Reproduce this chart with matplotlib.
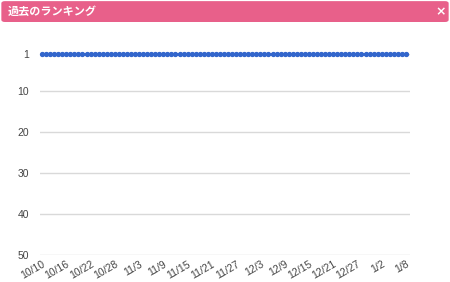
import matplotlib
matplotlib.use("Agg")
import matplotlib.pyplot as plt
from matplotlib.patches import FancyBboxPatch

plt.rcParams['font.family'] = ['Liberation Sans', 'Noto Sans CJK JP', 'DejaVu Sans']

title = "過去のランキング"
# daily rank from 10/10 to 1/8 (91 days), always 1st
ranks = [1, 1, 1, 1, 1, 1, 1, 1, 1, 1, 1, 1, 1, 1, 1, 1, 1, 1, 1, 1,
         1, 1, 1, 1, 1, 1, 1, 1, 1, 1, 1, 1, 1, 1, 1, 1, 1, 1, 1, 1,
         1, 1, 1, 1, 1, 1, 1, 1, 1, 1, 1, 1, 1, 1, 1, 1, 1, 1, 1, 1,
         1, 1, 1, 1, 1, 1, 1, 1, 1, 1, 1, 1, 1, 1, 1, 1, 1, 1, 1, 1,
         1, 1, 1, 1, 1, 1, 1, 1, 1, 1, 1]
tick_labels = ["10/10", "10/16", "10/22", "10/28", "11/3", "11/9", "11/15", "11/21",
               "11/27", "12/3", "12/9", "12/15", "12/21", "12/27", "1/2", "1/8"]
y_ticks = [1, 10, 20, 30, 40, 50]

days = list(range(len(ranks)))

fig = plt.figure(figsize=(4.5, 2.82), dpi=100)

# pink header bar
hdr = FancyBboxPatch((0.003, 1 - 22/282), 0.994, 22/282 - 0.004,
                     boxstyle="round,pad=0,rounding_size=0.008",
                     transform=fig.transFigure, facecolor="#e8608a",
                     edgecolor="none")
fig.patches.append(hdr)
fig.text(8/450, 1 - 11/282, title, color="white", fontsize=8, fontweight="bold",
         va="center", ha="left", family=['Noto Sans CJK JP', 'DejaVu Sans'])
fig.text(441/450, 1 - 12/282, "×", color="white", fontsize=9, fontweight="bold",
         va="center", ha="center", family="DejaVu Sans")

ax = fig.add_axes([40/450, 1 - 255/282, 370/450, (255 - 54)/282])
ax.plot(days, ranks, color="#3366cc", linewidth=2, marker="o", markersize=2.8,
        clip_on=False, zorder=3)
ax.set_ylim(50, 1)
ax.set_xlim(-0.5, 91)
ax.set_yticks(y_ticks)
ax.set_yticklabels([str(v) for v in y_ticks])
ax.set_xticks(days[::6])
ax.set_xticklabels(tick_labels, rotation=30, ha="right", rotation_mode="anchor")
ax.tick_params(length=0, labelsize=7.5, colors="#444444")
ax.tick_params(axis="y", pad=8)
ax.tick_params(axis="x", pad=3)
ax.grid(axis="y", color="#d9d9d9", linewidth=1)
ax.set_axisbelow(True)
for s in ax.spines.values():
    s.set_visible(False)

fig.savefig("out.png", dpi=100)
